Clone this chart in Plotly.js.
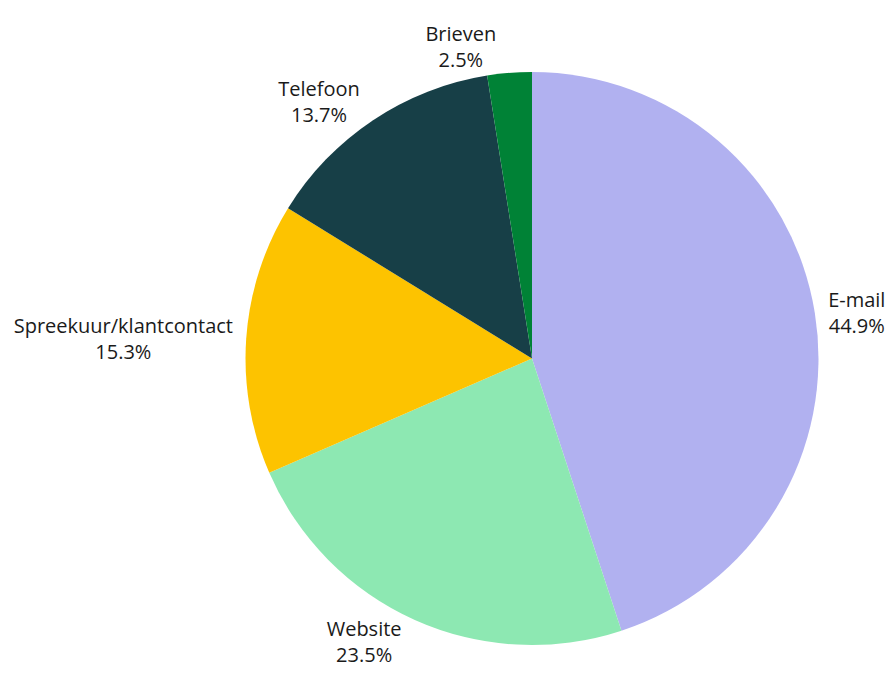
<!DOCTYPE html>
<html><head><meta charset="utf-8">
<script src="https://cdn.plot.ly/plotly-3.0.1.min.js"></script>
<style>html,body{margin:0;padding:0;background:#fff}</style>
</head><body><div id="chart" style="width:890px;height:689px"></div>
<script>
const labels = ["E-mail", "Website", "Spreekuur/klantcontact", "Telefoon", "Brieven"];
const values = [44.9, 23.5, 15.3, 13.7, 2.5];
const colors = ["#b1b1f0", "#8de8b2", "#fdc300", "#173f47", "#008236"];

Plotly.newPlot("chart", [{
  type: "pie",
  labels: labels,
  values: values,
  sort: false,
  direction: "clockwise",
  rotation: 0,
  marker: {colors: colors, line: {width: 0}},
  textposition: "outside",
  texttemplate: "%{label}<br>%{percent:.1%}",
  textfont: {family: "Open Sans, Noto Sans, sans-serif", size: 20, color: "#1a1a1a"},
  domain: {x: [0.2753, 0.9202], y: [0.0639, 0.8955]},
  automargin: false,
  hoverinfo: "none"
}], {
  width: 890, height: 689,
  margin: {l: 0, r: 0, t: 0, b: 0},
  showlegend: false,
  paper_bgcolor: "#ffffff"
}, {displayModeBar: false, staticPlot: true});
</script></body></html>
